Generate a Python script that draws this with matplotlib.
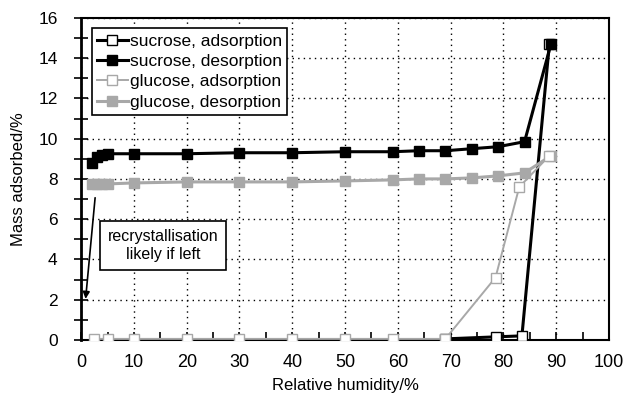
import matplotlib
matplotlib.use('Agg')
import matplotlib.pyplot as plt
from matplotlib.ticker import MultipleLocator

plt.rcParams['font.family'] = ['Liberation Sans', 'DejaVu Sans']

# sucrose, adsorption (hidden under glucose below 70 %RH)
suc_ads_x = [69, 78.5, 83.5, 88.7]
suc_ads_y = [0.05, 0.15, 0.2, 14.7]

# sucrose, desorption
suc_des_x = [2, 3, 4, 5, 10, 20, 30, 40, 50, 59, 64, 69, 74, 79, 84, 89]
suc_des_y = [8.8, 9.1, 9.2, 9.25, 9.25, 9.25, 9.3, 9.3, 9.35, 9.35, 9.4, 9.4, 9.5, 9.6, 9.85, 14.7]

# glucose, adsorption
glu_ads_x = [2.5, 5, 10, 20, 30, 40, 50, 59, 69, 78.5, 83, 88.7]
glu_ads_y = [0.05, 0.05, 0.05, 0.05, 0.05, 0.05, 0.05, 0.05, 0.05, 3.1, 7.6, 9.15]

# glucose, desorption
glu_des_x = [2, 3, 4, 5, 10, 20, 30, 40, 50, 59, 64, 69, 74, 79, 84, 89]
glu_des_y = [7.75, 7.75, 7.75, 7.75, 7.8, 7.85, 7.85, 7.85, 7.9, 7.95, 8.0, 8.0, 8.05, 8.15, 8.3, 9.15]

fig = plt.figure(figsize=(6.24, 3.98), dpi=100)
ax = fig.add_axes([0.13, 0.146, 0.846, 0.809])

grey = '#a8a8a8'

ax.plot(suc_ads_x, suc_ads_y, color='black', lw=2.2, marker='s', ms=7,
        mfc='white', mec='black', mew=1.0, label='sucrose, adsorption', zorder=3)
ax.plot(suc_des_x, suc_des_y, color='black', lw=2.2, marker='s', ms=7,
        mfc='black', mec='black', label='sucrose, desorption', zorder=3)
ax.plot(glu_ads_x, glu_ads_y, color=grey, lw=1.4, marker='s', ms=7,
        mfc='white', mec=grey, mew=1.0, ls='-', label='glucose, adsorption', zorder=4)
ax.plot(glu_des_x, glu_des_y, color=grey, lw=2.2, marker='s', ms=7,
        mfc=grey, mec=grey, label='glucose, desorption', zorder=3)

ax.set_xlim(0, 100)
ax.set_ylim(0, 16)
ax.xaxis.set_major_locator(MultipleLocator(10))
ax.xaxis.set_minor_locator(MultipleLocator(5))
ax.yaxis.set_major_locator(MultipleLocator(2))
ax.yaxis.set_minor_locator(MultipleLocator(1))
ax.tick_params(axis='x', which='both', direction='in', length=6, width=1.2, labelsize=13, pad=10)
ax.tick_params(axis='y', which='both', direction='inout', length=10, width=1.2, labelsize=12.5, pad=12)
ax.grid(True, which='major', color='black', ls=(0, (1, 3)), lw=1.0)
for s in ax.spines.values():
    s.set_linewidth(1.5)
ax.spines['left'].set_linewidth(2)

ax.set_xlabel('Relative humidity/%', fontsize=12, labelpad=5)
ax.set_ylabel('Mass adsorbed/%', fontsize=12, labelpad=9)

leg = ax.legend(loc='upper left', fontsize=12.5, frameon=True, fancybox=False,
                edgecolor='black', framealpha=1, handlelength=1.8, handletextpad=0.1,
                borderpad=0.3, labelspacing=0.3, borderaxespad=0.6)
leg.get_frame().set_linewidth(1.2)

ax.annotate('', xy=(0.8, 1.9), xytext=(2.7, 7.2),
            arrowprops=dict(arrowstyle='-|>', color='black', lw=1.2))
ax.text(15.5, 4.7, 'recrystallisation\nlikely if left', ha='center', va='center',
        fontsize=11.5, linespacing=1.3,
        bbox=dict(boxstyle='square,pad=0.5', fc='white', ec='black', lw=1.2))

fig.savefig('out.png', dpi=100)
